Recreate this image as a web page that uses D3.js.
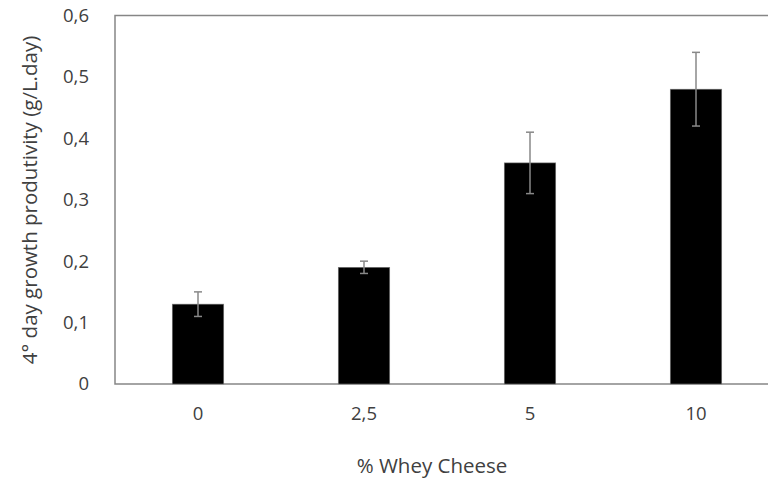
<!DOCTYPE html>
<html>
<head>
<meta charset="utf-8">
<script src="https://cdn.jsdelivr.net/npm/d3@7"></script>
<style>
  body { margin: 0; background: #fff; }
  text { font-family: "Open Sans", "DejaVu Sans", sans-serif; fill: #404040; }
</style>
</head>
<body>
<div id="chart"></div>
<script>
const categories = ["0", "2,5", "5", "10"];
const values = [0.13, 0.19, 0.36, 0.48];
const errors = [0.02, 0.01, 0.05, 0.06];
const yTicks = [0, 0.1, 0.2, 0.3, 0.4, 0.5, 0.6];

const svgWidth = 768;
const svgHeight = 480;
const margin = { top: 15.5, right: -11, bottom: 96, left: 115 };
const width = svgWidth - margin.left - margin.right;
const height = svgHeight - margin.top - margin.bottom;

const svg = d3.select("#chart")
  .append("svg")
  .attr("width", svgWidth)
  .attr("height", svgHeight);

const g = svg.append("g")
  .attr("transform", `translate(${margin.left},${margin.top})`);

const x = d3.scaleBand().domain(categories).range([0, width]).padding(0);
const y = d3.scaleLinear().domain([0, 0.6]).range([height, 0]);

const fmt = d => d === 0 ? "0" : d3.format(".1f")(d).replace(".", ",");

// plot frame
g.append("rect")
  .attr("x", 0).attr("y", 0)
  .attr("width", width).attr("height", height)
  .attr("fill", "none")
  .attr("stroke", "#868686")
  .attr("stroke-width", 1.5);

const barW = x.bandwidth() * 0.31;

g.selectAll(".bar")
  .data(values)
  .enter()
  .append("rect")
  .attr("class", "bar")
  .attr("x", (d, i) => x(categories[i]) + x.bandwidth() / 2 - barW / 2)
  .attr("y", d => y(d))
  .attr("width", barW)
  .attr("height", d => height - y(d))
  .attr("fill", "#000")
  .attr("stroke", "#777")
  .attr("stroke-width", 0.6);

// error bars
const eb = g.selectAll(".err")
  .data(values)
  .enter()
  .append("g")
  .attr("class", "err")
  .attr("stroke", "#888")
  .attr("stroke-width", 1.5);

eb.append("line")
  .attr("x1", (d, i) => x(categories[i]) + x.bandwidth() / 2)
  .attr("x2", (d, i) => x(categories[i]) + x.bandwidth() / 2)
  .attr("y1", (d, i) => y(d + errors[i]))
  .attr("y2", (d, i) => y(d - errors[i]));

[1, -1].forEach(s => {
  eb.append("line")
    .attr("x1", (d, i) => x(categories[i]) + x.bandwidth() / 2 - 4)
    .attr("x2", (d, i) => x(categories[i]) + x.bandwidth() / 2 + 4)
    .attr("y1", (d, i) => y(d + s * errors[i]))
    .attr("y2", (d, i) => y(d + s * errors[i]));
});

// y axis labels
const yAxis = g.append("g")
  .call(d3.axisLeft(y).tickValues(yTicks).tickFormat(fmt).tickSize(0).tickPadding(26));
yAxis.select(".domain").remove();
yAxis.selectAll("text")
  .style("font-size", "18.5px")
  .attr("fill", "#404040");

// x axis labels
const xAxis = g.append("g")
  .attr("transform", `translate(0,${height})`)
  .call(d3.axisBottom(x).tickSize(0).tickPadding(23));
xAxis.select(".domain").remove();
xAxis.selectAll("text")
  .style("font-size", "18.5px")
  .attr("fill", "#404040");

// titles
svg.append("text")
  .attr("x", 432)
  .attr("y", 473)
  .attr("text-anchor", "middle")
  .style("font-size", "20.5px")
  .text("% Whey Cheese");

svg.append("text")
  .attr("transform", `translate(37,200) rotate(-90)`)
  .attr("text-anchor", "middle")
  .style("font-size", "20.5px")
  .text("4° day growth produtivity (g/L.day)");
</script>
</body>
</html>
